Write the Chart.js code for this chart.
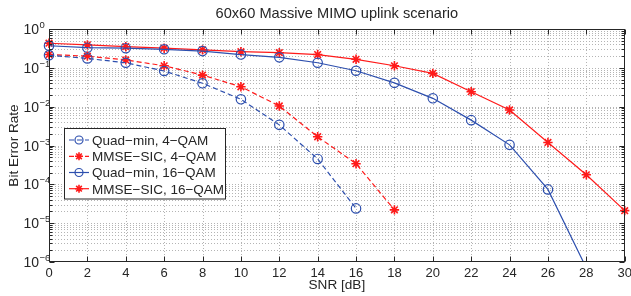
<!DOCTYPE html>
<html><head><meta charset="utf-8">
<script src="https://cdn.jsdelivr.net/npm/chart.js@4/dist/chart.umd.min.js"></script>
<style>html,body{margin:0;padding:0;background:#fff;}canvas{display:block;}</style>
</head><body>
<canvas id="c" width="631" height="296"></canvas>
<script>
// ---- data ----
const titleText = '60x60 Massive MIMO uplink scenario';
const xAxisTitle = 'SNR [dB]';
const yAxisTitle = 'Bit Error Rate';
const xTicks = [0,2,4,6,8,10,12,14,16,18,20,22,24,26,28,30];
const yDecadeExps = [-6,-5,-4,-3,-2,-1,0];
const yMinorMantissas = [2,3,4,5,6,7,8,9];

const snrQ4 = [0,2,4,6,8,10,12,14,16];
const berQ4 = [0.21,0.175,0.135,0.083,0.040,0.0155,0.0034,4.5e-4,2.4e-5];
const snrM4 = [0,2,4,6,8,10,12,14,16,18];
const berM4 = [0.22,0.20,0.16,0.113,0.065,0.0326,0.0104,0.00168,3.4e-4,2.2e-5];
const snrQ16 = [0,2,4,6,8,10,12,14,16,18,20,22,24,26,28];
const berQ16 = [0.37,0.33,0.32,0.30,0.27,0.22,0.186,0.135,0.084,0.041,0.0164,0.0045,0.00104,7.4e-5,7e-7];
const snrM16 = [0,2,4,6,8,10,12,14,16,18,20,22,24,26,28,30];
const berM16 = [0.43,0.39,0.35,0.32,0.29,0.26,0.245,0.22,0.166,0.113,0.072,0.0243,0.0082,0.0012,1.76e-4,2.1e-5];

const seriesNames = ['Quad\u2212min, 4\u2212QAM','MMSE\u2212SIC, 4\u2212QAM','Quad\u2212min, 16\u2212QAM','MMSE\u2212SIC, 16\u2212QAM'];

// ---- styles ----
const BLUE = '#2d4fae', RED = '#ff1a1a', INK = '#262626', GRID = '#b4b4b4';
const FONT = '"Liberation Sans", Arial, Helvetica, sans-serif';
const DASH = [5,3];
const pts = (xs, ys) => xs.map((x,i)=>({x, y: ys[i]}));
const rad = c => (c.raw && c.raw.y < 1e-6) ? 0 : 4.7;
const clipArea = {left: 10, top: 10, right: 10, bottom: 0};

const datasets = [
  {label: seriesNames[0], data: pts(snrQ4, berQ4), borderColor: BLUE, borderDash: DASH, pointStyle: 'circle', pointBorderWidth: 1.2},
  {label: seriesNames[1], data: pts(snrM4, berM4), borderColor: RED, borderDash: DASH, pointStyle: 'star', pointBorderWidth: 1.6},
  {label: seriesNames[2], data: pts(snrQ16, berQ16), borderColor: BLUE, borderDash: [], pointStyle: 'circle', pointBorderWidth: 1.2},
  {label: seriesNames[3], data: pts(snrM16, berM16), borderColor: RED, borderDash: [], pointStyle: 'star', pointBorderWidth: 1.6}
].map(d => Object.assign(d, {
  borderWidth: 1.2, pointRadius: rad, pointBorderColor: d.borderColor, pointBackgroundColor: 'rgba(0,0,0,0)',
  tension: 0, fill: false, clip: clipArea
}));

function hline(ctx,x1,x2,y){ctx.beginPath();ctx.moveTo(x1,y);ctx.lineTo(x2,y);ctx.stroke();}
function vline(ctx,x,y1,y2){ctx.beginPath();ctx.moveTo(x,y1);ctx.lineTo(x,y2);ctx.stroke();}
function yValues(){ const out=[]; yDecadeExps.forEach(e=>{ out.push({v:Math.pow(10,e), major:true}); if(e<0) yMinorMantissas.forEach(m=>out.push({v:m*Math.pow(10,e), major:false})); }); return out; }

const decor = {
  id: 'decor',
  beforeDatasetsDraw(chart){
    const {ctx, chartArea:a, scales:{x,y}} = chart;
    ctx.save();
    ctx.strokeStyle = GRID; ctx.lineWidth = 1; ctx.setLineDash([1,2]);
    xTicks.forEach(v=>{ const px=Math.round(x.getPixelForValue(v))+0.5; if(v>0&&v<30) vline(ctx,px,a.top,a.bottom); });
    yValues().forEach(t=>{ const py=Math.round(y.getPixelForValue(t.v))+0.5; if(t.v>1e-6&&t.v<1) hline(ctx,a.left,a.right,py); });
    ctx.restore();
  },
  afterDatasetsDraw(chart){
    const {ctx, chartArea:a, scales:{x,y}} = chart;
    ctx.save();
    // frame and inward ticks
    ctx.strokeStyle = INK; ctx.lineWidth = 1; ctx.setLineDash([]);
    const L=Math.round(a.left)+0.5, R=Math.round(a.right)-0.5, T=Math.round(a.top)+0.5, B=Math.round(a.bottom)-0.5;
    ctx.strokeRect(L,T,R-L,B-T);
    xTicks.forEach(v=>{ const px=Math.round(x.getPixelForValue(v))+0.5; vline(ctx,px,B,B-5); vline(ctx,px,T,T+5); });
    yValues().forEach(t=>{ const py=Math.round(y.getPixelForValue(t.v))+0.5; const len=t.major?5:3; hline(ctx,L,L+len,py); hline(ctx,R,R-len,py); });
    // legend box
    const lx=64.5, ly=128.5, lw=161, lh=70.5;
    ctx.fillStyle='#fff'; ctx.fillRect(lx,ly,lw,lh); ctx.strokeStyle=INK; ctx.strokeRect(lx,ly,lw,lh);
    const rows=[140,156.3,172.5,188.7];
    chart.data.datasets.forEach((d,i)=>{
      const yy=rows[i];
      ctx.strokeStyle=d.borderColor; ctx.lineWidth=1.2; ctx.setLineDash(d.borderDash);
      hline(ctx,69,89,yy);
      ctx.setLineDash([]); ctx.lineWidth=d.pointBorderWidth; ctx.fillStyle='rgba(0,0,0,0)';
      Chart.helpers.drawPoint(ctx,{pointStyle:d.pointStyle,radius:4,borderWidth:d.pointBorderWidth,rotation:0},79,yy);
      ctx.fillStyle=INK; ctx.font='13.5px '+FONT; ctx.textAlign='left'; ctx.textBaseline='alphabetic';
      ctx.fillText(d.label,92,yy+4.8);
    });
    ctx.restore();
  },
  afterDraw(chart){
    const {ctx, chartArea:a, scales:{x,y}} = chart;
    ctx.save();
    ctx.fillStyle = INK; ctx.textBaseline='alphabetic';
    // title
    ctx.font='14.6px '+FONT; ctx.textAlign='center';
    ctx.fillText(titleText,(a.left+a.right)/2,18.3);
    // x tick labels
    ctx.font='13px '+FONT;
    xTicks.forEach(v=>ctx.fillText(String(v),x.getPixelForValue(v),276.7));
    // x axis title
    ctx.font='13.6px '+FONT;
    ctx.fillText(xAxisTitle,(a.left+a.right)/2,289.3);
    // y tick labels 10^e
    yDecadeExps.forEach(e=>{
      const py=y.getPixelForValue(Math.pow(10,e));
      ctx.textAlign='left'; ctx.font='14px '+FONT;
      ctx.fillText('10',23.5,py+5);
      ctx.font='9.5px '+FONT;
      ctx.fillText(e===0?'0':'\u2212'+Math.abs(e),39.5,py-1);
    });
    // y axis title
    ctx.translate(18.3,(a.top+a.bottom)/2); ctx.rotate(-Math.PI/2);
    ctx.textAlign='center'; ctx.font='13.6px '+FONT;
    ctx.fillText(yAxisTitle,0,0);
    ctx.restore();
  }
};

new Chart(document.getElementById('c'), {
  type: 'line',
  data: {datasets},
  options: {
    responsive: false, animation: false, devicePixelRatio: 1,
    layout: {padding: {left: 0, right: 6, top: 29, bottom: 0}},
    plugins: {legend: {display: false}, title: {display: false}, tooltip: {enabled: false}},
    scales: {
      x: {type: 'linear', min: 0, max: 30, ticks: {display: false}, grid: {display: false}, border: {display: false},
          afterFit: s => { s.height = 34; }},
      y: {type: 'logarithmic', min: 1e-6, max: 1, ticks: {display: false}, grid: {display: false}, border: {display: false},
          afterFit: s => { s.width = 49; }}
    }
  },
  plugins: [decor]
});
</script>
</body></html>
